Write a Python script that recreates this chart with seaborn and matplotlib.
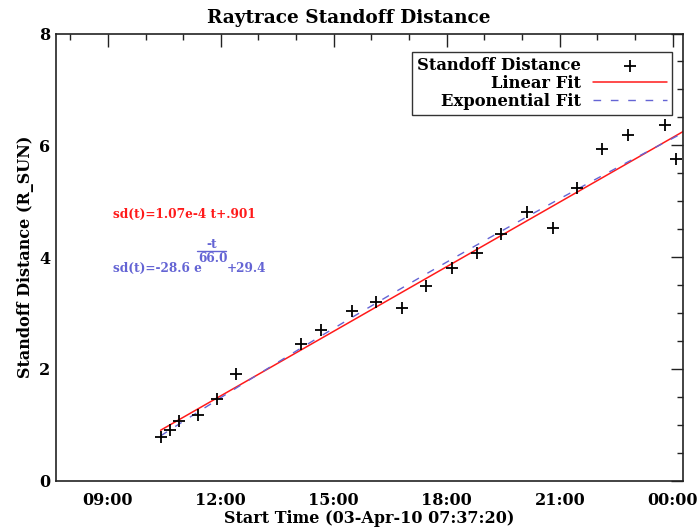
import numpy as np
import pandas as pd
import matplotlib
matplotlib.use("Agg")
import matplotlib.pyplot as plt
import seaborn as sns
from matplotlib.ticker import FixedLocator, MultipleLocator, FuncFormatter

# ---------------- data (hours since 03-Apr-10 00:00) ----------------
time_hours = [10.40, 10.65, 10.90, 11.40, 11.90, 12.39, 14.13, 14.66, 15.47,
               16.12, 16.80, 17.46, 18.15, 18.79, 19.45, 20.13, 20.81, 21.45,
               22.12, 22.80, 23.79, 24.10]
standoff_rsun = [0.78, 0.91, 1.07, 1.17, 1.46, 1.90, 2.44, 2.69, 3.04,
                 3.19, 3.09, 3.49, 3.81, 4.08, 4.42, 4.80, 4.52, 5.23,
                 5.94, 6.18, 6.36, 5.75]

# fit parameters shown on the chart
lin_slope_per_s = 1.07e-4
lin_intercept = 0.901
exp_amp = -28.6
exp_tau = 66.0
exp_offset = 29.4

x_start = 7 + 37 / 60 + 20 / 3600   # 07:37:20
x_end = 24.28
major_ticks = [9, 12, 15, 18, 21, 24]
y_ticks = [0, 2, 4, 6, 8]

title = "Raytrace Standoff Distance"
xlabel = "Start Time (03-Apr-10 07:37:20)"
ylabel = "Standoff Distance (R_SUN)"
legend_labels = ["Standoff Distance", "Linear Fit", "Exponential Fit"]
lin_text = "sd(t)=1.07e-4 t+.901"
exp_text_main = "sd(t)=-28.6 e"
exp_text_num = "-t"
exp_text_den = "66.0"
exp_text_tail = "+29.4"

RED = "#ff1a1a"
BLUE = "#6464d4"

# ---------------- fits ----------------
t_fit = np.linspace(time_hours[0], x_end + 0.3, 300)
dt = t_fit - time_hours[0]
lin_fit = lin_slope_per_s * dt * 3600 + lin_intercept
exp_fit = exp_amp * np.exp(-dt / exp_tau) + exp_offset

df_pts = pd.DataFrame({"time": time_hours, "sd": standoff_rsun})
df_fit = pd.DataFrame({"time": t_fit, "lin": lin_fit, "exp": exp_fit})

# ---------------- style ----------------
sns.set_style("white")
plt.rcParams["font.family"] = ["DejaVu Serif"]
plt.rcParams["font.weight"] = "bold"
plt.rcParams["axes.labelweight"] = "bold"
plt.rcParams["text.color"] = "black"
plt.rcParams["axes.labelcolor"] = "black"
plt.rcParams["xtick.color"] = "black"
plt.rcParams["ytick.color"] = "black"

fig = plt.figure(figsize=(6.97, 5.31), dpi=100)
ax = fig.add_axes([0.0803, 0.0949, 0.9000, 0.8420])

sns.lineplot(data=df_fit, x="time", y="lin", color=RED, lw=1.1, ax=ax,
             label=legend_labels[1])
sns.lineplot(data=df_fit, x="time", y="exp", color=BLUE, lw=1.0, ax=ax,
             label=legend_labels[2])
ax.lines[1].set_dashes((5.5, 7))
sns.scatterplot(data=df_pts, x="time", y="sd", marker="+", s=75,
                color="black", linewidth=1.3, ax=ax, label=legend_labels[0],
                zorder=5)

ax.set_xlim(x_start, x_end)
ax.set_ylim(0, 8)

ax.xaxis.set_major_locator(FixedLocator(major_ticks))
ax.xaxis.set_minor_locator(MultipleLocator(1))
ax.xaxis.set_major_formatter(FuncFormatter(lambda v, p: f"{int(round(v)) % 24:02d}:00"))
ax.yaxis.set_major_locator(FixedLocator(y_ticks))
ax.yaxis.set_minor_locator(MultipleLocator(0.5))

ax.tick_params(which="both", direction="in", top=True, right=True,
               color="#222222", width=1.0)
ax.tick_params(which="major", length=9)
ax.tick_params(which="minor", length=4.5)
ax.tick_params(axis="x", which="major", pad=8, labelsize=11.5)
ax.tick_params(axis="y", which="major", pad=4, labelsize=11.5)
for lab in ax.get_xticklabels() + ax.get_yticklabels():
    lab.set_fontweight("bold")

for sp in ax.spines.values():
    sp.set_visible(True)
    sp.set_color("#222222")
    sp.set_linewidth(1.2)

fig.text(0.5, 0.966, title, ha="center", va="center", fontsize=13.3,
         fontweight="bold", color="black")
ax.set_xlabel(xlabel, fontsize=11.5, fontweight="bold", labelpad=1)
ax.set_ylabel(ylabel, fontsize=11.5, fontweight="bold", labelpad=4)

# legend: text right-aligned, handles on the right
handles, labels = ax.get_legend_handles_labels()
order = [labels.index(l) for l in legend_labels]
handles = [handles[i] for i in order]
leg = ax.legend(handles, legend_labels, loc="upper right",
                bbox_to_anchor=(0.982, 0.958), borderaxespad=0,
                markerfirst=False, frameon=True, fancybox=False,
                edgecolor="#333333", framealpha=1,
                handlelength=4.5, handletextpad=0.75, borderpad=0.3,
                labelspacing=0.05, prop={"weight": "bold", "size": 11.8})
leg.get_frame().set_linewidth(1.0)

# annotations
FS = 8.7
ax.text(0.091, 0.596, lin_text, transform=ax.transAxes, color=RED,
        fontsize=FS, fontweight="bold", ha="left", va="center")
t_main = ax.text(0.091, 0.474, exp_text_main, transform=ax.transAxes,
                 color=BLUE, fontsize=FS, fontweight="bold",
                 ha="left", va="center")
fig.canvas.draw()
renderer = fig.canvas.get_renderer()
bb = t_main.get_window_extent(renderer)
inv = ax.transAxes.inverted()
x_after, _ = inv.transform((bb.x1, bb.y0))
frac_w = 0.047
frac_cx = x_after + frac_w / 2 - 0.008
ax.text(frac_cx, 0.528, exp_text_num, transform=ax.transAxes, color=BLUE,
        fontsize=FS, fontweight="bold", ha="center", va="center")
ax.plot([frac_cx - frac_w / 2, frac_cx + frac_w / 2], [0.5135, 0.5135],
        transform=ax.transAxes, color=BLUE, lw=1.0)
ax.text(frac_cx + 0.002, 0.496, exp_text_den, transform=ax.transAxes,
        color=BLUE, fontsize=FS, fontweight="bold", ha="center", va="center")
ax.text(frac_cx + frac_w / 2 + 0.001, 0.474, exp_text_tail,
        transform=ax.transAxes, color=BLUE, fontsize=FS, fontweight="bold",
        ha="left", va="center")

fig.savefig("out.png", dpi=100, facecolor="white")
